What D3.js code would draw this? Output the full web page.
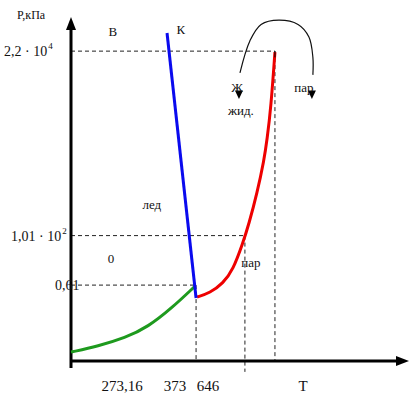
<!DOCTYPE html>
<html><head><meta charset="utf-8">
<script src="https://cdn.jsdelivr.net/npm/d3@7"></script>
<style>body{margin:0;background:#fff}svg{display:block}</style>
</head><body><div id="c"></div>
<script>
// Schematic diagram units (0..100 on each axis)
const iceLine = [[29.1, 99.4], [37.9, 19.1]];                 // blue (melting)
const sublimation = [[0, 2.7], [8.2, 4.5], [16.4, 7.0], [23.3, 10.3], [30.6, 16.1], [37.6, 22.7]]; // green
const boiling = [[38.2, 19.4], [42.1, 20.6], [46.1, 23.6], [49.1, 27.6], [52.1, 35.8], [53.9, 41.5], [56.4, 50.9], [58.5, 60.9], [59.4, 67.0], [60.6, 77.0], [61.8, 93.6]]; // red
const arcPts = [[51.2, 87.3], [54.2, 97.0], [57.6, 102.0], [63.0, 103.3], [68.8, 102.0], [72.1, 98.2], [73.3, 92.0], [73.3, 86.7]];
const yTicks = [{v: 93.9, base: "2,2 \u00b7 10", sup: "4", xEnd: 61.8, lx: 4}, {v: 38.0, base: "1,01 \u00b7 10", sup: "2", xEnd: 52.7, lx: 11}, {v: 23.0, base: "0,61", sup: "", xEnd: 37.6, lx: 55}];
const xGuides = [{v: 37.9, y0: 23.0, y1: 0}, {v: 52.7, y0: 38.0, y1: -3.3}, {v: 61.8, y0: 93.9, y1: 0}];
const xLabels = [{t: "273,16", v: 15.5}, {t: "373", v: 31.5}, {t: "646", v: 41.5}, {t: "Т", v: 70.3}];
const regionLabels = [{t: "В", x: 12.7, y: 98.5}, {t: "К", x: 33.3, y: 99.0}, {t: "лед", x: 24.5, y: 46.0}, {t: "0", x: 12.1, y: 29.7}, {t: "пар", x: 54.5, y: 28.5}, {t: "Ж", x: 50.3, y: 81.5}, {t: "жид.", x: 51.5, y: 74.5}, {t: "пар", x: 70.6, y: 81.5}];

const FONT = "'Liberation Serif', 'DejaVu Serif', 'Times New Roman', serif";
const W = 409, H = 395;
const x = d3.scaleLinear().domain([0, 100]).range([71, 401]);
const y = d3.scaleLinear().domain([0, 100]).range([361, 31]);
const svg = d3.select("#c").append("svg").attr("width", W).attr("height", H).attr("font-family", FONT);

// dashed guides
const dash = "4,3";
yTicks.forEach(d => svg.append("line").attr("x1", x(0)).attr("x2", x(d.xEnd)).attr("y1", y(d.v)).attr("y2", y(d.v))
  .attr("stroke", "#222").attr("stroke-width", 1).attr("stroke-dasharray", dash));
xGuides.forEach(d => svg.append("line").attr("x1", x(d.v)).attr("x2", x(d.v)).attr("y1", y(d.y0)).attr("y2", y(d.y1))
  .attr("stroke", "#222").attr("stroke-width", 1).attr("stroke-dasharray", dash));

// axes with arrows
svg.append("line").attr("x1", x(0)).attr("x2", x(0)).attr("y1", y(-2.1)).attr("y2", 28).attr("stroke", "#000").attr("stroke-width", 3);
svg.append("path").attr("d", `M${x(0)-5},30 L${x(0)},17 L${x(0)+5},30 Z`).attr("fill", "#000");
svg.append("line").attr("x1", x(-0.3)).attr("x2", 398).attr("y1", y(0)).attr("y2", y(0)).attr("stroke", "#000").attr("stroke-width", 3);
svg.append("path").attr("d", `M396,${y(0)-5} L409,${y(0)} L396,${y(0)+5} Z`).attr("fill", "#000");

const line = d3.line().x(d => x(d[0])).y(d => y(d[1]));
svg.append("path").datum(sublimation).attr("d", line.curve(d3.curveBasis)).attr("fill", "none").attr("stroke", "#1e9a1e").attr("stroke-width", 3);
svg.append("path").datum(boiling).attr("d", line.curve(d3.curveBasis)).attr("fill", "none").attr("stroke", "#ee0000").attr("stroke-width", 3);
svg.append("path").datum(iceLine).attr("d", line.curve(d3.curveLinear)).attr("fill", "none").attr("stroke", "#0a0aee").attr("stroke-width", 3);
// small tick at red top
svg.append("line").attr("x1", x(61.8)).attr("x2", x(61.8)).attr("y1", y(93.9)).attr("y2", y(92)).attr("stroke", "#000").attr("stroke-width", 1);

// arc arrow
svg.append("path").datum(arcPts).attr("d", line.curve(d3.curveCatmullRom)).attr("fill", "none").attr("stroke", "#111").attr("stroke-width", 1.2);
[arcPts[0][0] - 0.3, arcPts[arcPts.length - 1][0] - 0.3].forEach(v => {
  svg.append("path").attr("d", `M${x(v)-4},${y(82)} L${x(v)+4},${y(82)} L${x(v)},${y(79.4)} Z`).attr("fill", "#000");
});

// y labels
svg.append("text").attr("x", 17).attr("y", 19).attr("font-size", 12).attr("fill", "#111").text("P,кПа");
yTicks.forEach(d => {
  const t = svg.append("text").attr("x", d.lx).attr("y", y(d.v) + 5).attr("font-size", 14).attr("fill", "#111");
  t.append("tspan").text(d.base);
  if (d.sup) t.append("tspan").attr("dy", -7).attr("dx", 1).attr("font-size", 9).text(d.sup);
});
xLabels.forEach(d => svg.append("text").attr("x", x(d.v)).attr("y", 391).attr("text-anchor", "middle").attr("font-size", 15).attr("fill", "#111").text(d.t));
regionLabels.forEach(d => svg.append("text").attr("x", x(d.x)).attr("y", y(d.y)).attr("text-anchor", "middle").attr("font-size", 13).attr("fill", "#111").text(d.t));
</script></body></html>
